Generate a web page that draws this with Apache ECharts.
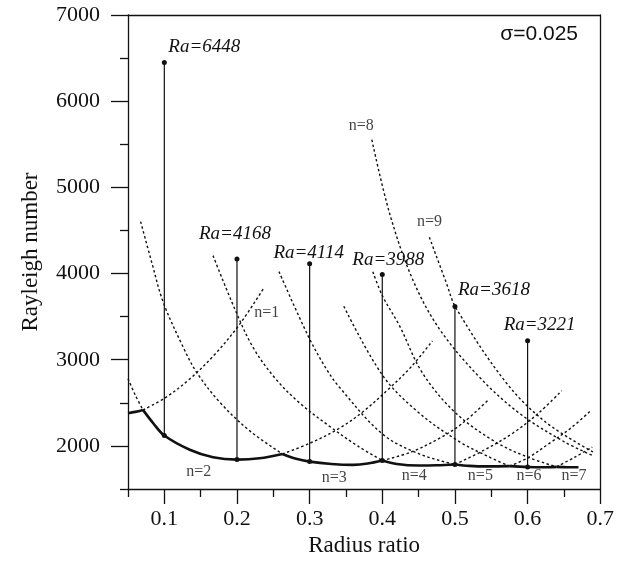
<!DOCTYPE html>
<html lang="en">
<head>
    <meta charset="UTF-8">
    <title>Rayleigh number vs radius ratio</title>
    <script src="https://cdn.jsdelivr.net/npm/echarts@6.0.0/dist/echarts.min.js"></script>
</head>
<body style="margin:0;background:#fff;">
    <div id="pic1" style="width:617px;height:564px;"></div>
    <script>
        // axis ticks
        var xMajor = [0.1, 0.2, 0.3, 0.4, 0.5, 0.6, 0.7];
        var xMinor = [0.05, 0.15, 0.25, 0.35, 0.45, 0.55, 0.65];
        var yMajor = [2000, 3000, 4000, 5000, 6000, 7000];
        var yMinor = [1500, 2500, 3500, 4500, 5500, 6500];

        // critical curve (thick), kinks where the mode changes
        var envelope = [
            [0.05, 2380], [0.06, 2395], [0.0706, 2418],
            [0.085, 2260], [0.1, 2120], [0.135, 1955], [0.167, 1868], [0.2, 1841], [0.231, 1856], [0.2625, 1907],
            [0.28, 1855], [0.3, 1818], [0.33, 1790], [0.36, 1780], [0.38, 1795], [0.4, 1830],
            [0.42, 1790], [0.45, 1772], [0.475, 1775], [0.5, 1785],
            [0.52, 1768], [0.545, 1762], [0.575, 1765],
            [0.6, 1755], [0.62, 1752], [0.64, 1757],
            [0.655, 1752], [0.67, 1752]
        ];
        var kinks = [0.0706, 0.2625, 0.4, 0.5, 0.575, 0.64];

        // neutral curves, dotted parts
        var rise1 = [[0.0706, 2418], [0.101, 2557], [0.135, 2777], [0.17, 3067], [0.204, 3415], [0.237, 3833]];
        var fall2 = [[0.05, 2780], [0.06, 2590], [0.0706, 2418]];
        var rise2 = [[0.2625, 1907], [0.3, 2030], [0.34, 2200], [0.373, 2394], [0.41, 2670], [0.44, 2920], [0.469, 3218]];
        var fall3 = [[0.0674, 4602], [0.083, 4120], [0.0985, 3667], [0.126, 3145], [0.1444, 2855], [0.176, 2510], [0.2176, 2174], [0.2625, 1907]];
        var rise3 = [[0.4, 1830], [0.44, 1930], [0.48, 2095], [0.51, 2260], [0.545, 2525]];
        var fall4 = [[0.167, 4208], [0.197, 3589], [0.222, 3145], [0.252, 2790], [0.286, 2500], [0.327, 2230], [0.366, 2000], [0.4, 1830]];
        var rise4 = [[0.5, 1785], [0.54, 1950], [0.58, 2150], [0.615, 2380], [0.647, 2641]];
        var fall5 = [[0.2578, 4022], [0.2977, 3280], [0.323, 2893], [0.341, 2681], [0.4, 2139], [0.451, 1907], [0.5, 1785]];
        var rise5 = [[0.575, 1765], [0.6, 1860], [0.63, 2030], [0.66, 2210], [0.687, 2410]];
        var fall6 = [[0.347, 3621], [0.4007, 2815], [0.451, 2380], [0.506, 2050], [0.545, 1880], [0.575, 1765]];
        var rise6 = [[0.64, 1757], [0.665, 1870], [0.689, 1985]];
        var fall7 = [[0.387, 4022], [0.4, 3744], [0.4236, 3396], [0.455, 2850], [0.5, 2390], [0.555, 2050], [0.6, 1870], [0.64, 1757]];
        var fall8 = [[0.3856, 5553], [0.41, 4700], [0.4415, 3937], [0.4786, 3357], [0.5335, 2800], [0.5885, 2380], [0.65, 2050], [0.69, 1887]];
        var fall9 = [[0.4648, 4421], [0.4878, 3900], [0.5015, 3600], [0.57, 2739], [0.625, 2275], [0.69, 1930]];

        // marked radius ratios
        var stemX = [0.1, 0.2, 0.3, 0.4, 0.5, 0.6];
        var stemTop = [6448, 4168, 4114, 3988, 3618, 3221];
        var stemBase = [2120, 1841, 1818, 1830, 1785, 1755];

        // mode labels
        var modeNames = ['n=1', 'n=2', 'n=3', 'n=4', 'n=5', 'n=6', 'n=7', 'n=8', 'n=9'];
        var modeX = [0.241, 0.1475, 0.334, 0.444, 0.535, 0.602, 0.664, 0.371, 0.465];
        var modeY = [3543, 1698, 1629, 1652, 1652, 1652, 1652, 5712, 4598];

        var black = '#111';
        var serif = 'Liberation Serif';
        var raOffset = [[40, -16], [-2, -25], [-1, -11], [6, -15], [39, -16], [12, -16]];

        var myChart = echarts.init(document.getElementById("pic1"));
        var series = [];

        [rise1, fall2, rise2, fall3, rise3, fall4, rise4, fall5, rise5, fall6, rise6, fall7, fall8, fall9].forEach(function (d) {
            series.push({
                type: 'line', data: d, symbol: 'none', smooth: 0.35, silent: true,
                lineStyle: {color: black, width: 1.4, type: [2.5, 2.5]}
            });
        });

        // split envelope at the kinks so corners stay sharp
        var pieces = [[]];
        envelope.forEach(function (p) {
            pieces[pieces.length - 1].push(p);
            if (kinks.indexOf(p[0]) >= 0) pieces.push([p]);
        });
        pieces.forEach(function (d) {
            series.push({
                type: 'line', data: d, symbol: 'none', smooth: 0.35, silent: true,
                lineStyle: {color: black, width: 2.6}
            });
        });

        stemX.forEach(function (x, i) {
            series.push({
                type: 'line', symbol: 'circle', symbolSize: 5, silent: true,
                itemStyle: {color: black},
                lineStyle: {color: black, width: 1.2},
                data: [
                    {
                        value: [x, stemTop[i]],
                        label: {
                            show: true, position: 'inside', offset: raOffset[i],
                            formatter: 'Ra=' + stemTop[i],
                            fontFamily: serif, fontStyle: 'italic', fontSize: 19, color: black
                        }
                    },
                    [x, stemBase[i]]
                ]
            });
        });

        series.push({
            type: 'scatter', symbolSize: 0, silent: true,
            data: modeX.map(function (x, i) { return [x, modeY[i]]; }),
            label: {
                show: true, position: 'inside',
                formatter: function (p) { return modeNames[p.dataIndex]; },
                fontFamily: serif, fontSize: 16, color: black
            }
        });

        var tickStyle = {color: black, width: 1.3};
        myChart.setOption({
            animation: false,
            backgroundColor: '#fff',
            title: {
                text: 'σ=0.025', right: 34, top: 19,
                textStyle: {fontFamily: 'Liberation Sans', fontWeight: 'normal', fontSize: 21, color: black}
            },
            grid: {left: 128, right: 16, top: 15, bottom: 75},
            xAxis: [
                {
                    type: 'value', min: 0.05, max: 0.7, interval: 0.05, position: 'bottom',
                    axisLine: {lineStyle: tickStyle},
                    axisTick: {customValues: xMajor, length: 15, lineStyle: tickStyle},
                    axisLabel: {
                        customValues: xMajor, margin: 19,
                        formatter: function (v) { return v.toFixed(1); },
                        fontFamily: serif, fontSize: 22, color: black
                    },
                    splitLine: {show: false},
                    name: 'Radius ratio', nameLocation: 'middle', nameGap: 29,
                    nameTextStyle: {fontFamily: serif, fontSize: 23, color: black}
                },
                {
                    type: 'value', min: 0.05, max: 0.7, interval: 0.05, position: 'bottom',
                    axisLine: {show: false},
                    axisTick: {customValues: xMinor, length: 8, lineStyle: tickStyle},
                    axisLabel: {show: false}, splitLine: {show: false}
                },
                {
                    type: 'value', min: 0.05, max: 0.7, interval: 0.05, position: 'top',
                    axisLine: {lineStyle: tickStyle},
                    axisTick: {show: false}, axisLabel: {show: false}, splitLine: {show: false}
                }
            ],
            yAxis: [
                {
                    type: 'value', min: 1500, max: 7000, interval: 500, position: 'left',
                    axisLine: {show: true, lineStyle: tickStyle},
                    axisTick: {show: true, customValues: yMajor, length: 17, lineStyle: tickStyle},
                    axisLabel: {
                        customValues: yMajor, margin: 28,
                        formatter: function (v) { return String(v); },
                        fontFamily: serif, fontSize: 22, color: black
                    },
                    splitLine: {show: false},
                    name: 'Rayleigh number', nameLocation: 'middle', nameGap: 86,
                    nameTextStyle: {fontFamily: serif, fontSize: 23, color: black}
                },
                {
                    type: 'value', min: 1500, max: 7000, interval: 500, position: 'left',
                    axisLine: {show: false},
                    axisTick: {show: true, customValues: yMinor, length: 8, lineStyle: tickStyle},
                    axisLabel: {show: false}, splitLine: {show: false}
                },
                {
                    type: 'value', min: 1500, max: 7000, interval: 500, position: 'right',
                    axisLine: {show: true, lineStyle: tickStyle},
                    axisTick: {show: false}, axisLabel: {show: false}, splitLine: {show: false}
                }
            ],
            series: series
        });
    </script>
</body>
</html>
